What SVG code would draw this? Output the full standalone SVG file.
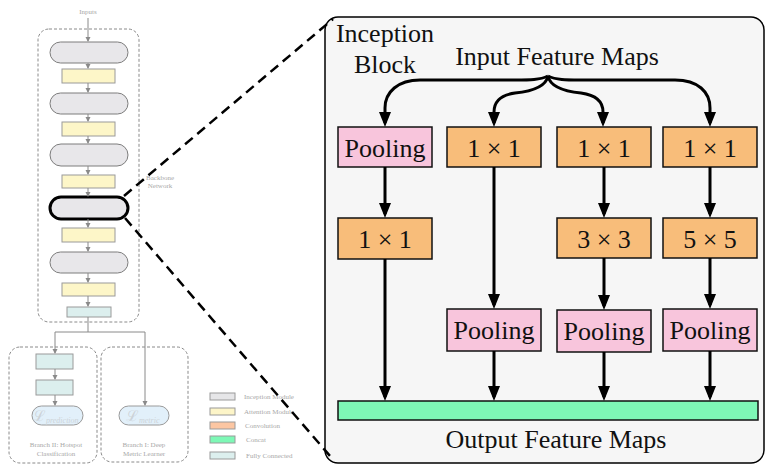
<svg xmlns="http://www.w3.org/2000/svg" width="765" height="465" viewBox="0 0 765 465">
  <style>
    .small { font-family: "Liberation Serif", "Times New Roman", serif; font-size: 7px; fill: #a8a8a8; }
    .big { font-family: "Liberation Serif", "Times New Roman", serif; font-size: 26px; fill: #111; }
    .mid { text-anchor: middle; }
    .dashbox { fill: none; stroke: #8a8a8a; stroke-width: 1; stroke-dasharray: 3 2; }
    .pill { fill: #e8e7ea; stroke: #7d7d7d; stroke-width: 1; }
    .att { fill: #fdf6c8; stroke: #9a9a9a; stroke-width: 1; }
    .fc { fill: #dcefee; stroke: #9a9a9a; stroke-width: 1; }
    .loss { fill: #e2f0fa; stroke: #9a9a9a; stroke-width: 1; }
    .garrow { fill: none; stroke: #8a8a8a; stroke-width: 1; marker-end: url(#gtip); }
    .gline { fill: none; stroke: #8a8a8a; stroke-width: 1; }
    .pool { fill: #f8c5dc; stroke: #111; stroke-width: 1.5; }
    .conv { fill: #f8bd7a; stroke: #111; stroke-width: 1.5; }
    .concat { fill: #7ef7b6; stroke: #111; stroke-width: 1.5; }
    .barrow { fill: none; stroke: #000; stroke-width: 3; marker-end: url(#btip); }
    .zoom { fill: none; stroke: #000; stroke-width: 2.5; stroke-dasharray: 10 6; }
    .lossL { font-family: "DejaVu Serif", "Liberation Serif", serif; font-size: 15px; fill: #cdd3d8; }
    .lossS { font-family: "Liberation Serif", serif; font-style: italic; font-size: 8px; fill: #cdd3d8; }
  </style>
  <defs>
    <marker id="gtip" markerUnits="userSpaceOnUse" markerWidth="6" markerHeight="6" refX="4" refY="2.5" orient="auto">
      <path d="M0,0 L5,2.5 L0,5 z" fill="#8a8a8a"/>
    </marker>
    <marker id="btip" markerUnits="userSpaceOnUse" markerWidth="16" markerHeight="13" refX="11" refY="6" orient="auto">
      <path d="M0,0 L15,6 L0,12 z" fill="#000"/>
    </marker>
  </defs>

  <!-- Backbone network -->
  <g id="backbone">
    <text class="small mid" x="88" y="14">Inputs</text>
    <rect class="dashbox" x="38" y="29" width="101" height="293" rx="11"/>
    <text class="small mid" x="160" y="180">Backbone</text>
    <text class="small mid" x="160" y="188">Network</text>
  </g>
  <g id="inception1"><rect class="pill" x="50" y="42" width="78" height="21" rx="10.5"/></g>
  <g id="attention1"><rect class="att" x="62" y="69" width="53" height="14"/></g>
  <g id="inception2"><rect class="pill" x="50" y="93" width="78" height="21" rx="10.5"/></g>
  <g id="attention2"><rect class="att" x="62" y="122" width="53" height="14"/></g>
  <g id="inception3"><rect class="pill" x="50" y="144" width="78" height="22" rx="11"/></g>
  <g id="attention3"><rect class="att" x="62" y="175" width="53" height="13"/></g>
  <g id="inception4"><rect class="pill" x="50" y="197" width="78" height="22" rx="11" style="stroke:#000;stroke-width:3"/></g>
  <g id="attention4"><rect class="att" x="62" y="228" width="53" height="14"/></g>
  <g id="inception5"><rect class="pill" x="50" y="252" width="78" height="21" rx="10.5"/></g>
  <g id="attention5"><rect class="att" x="62" y="283" width="53" height="13"/></g>
  <g id="fc0"><rect class="fc" x="67" y="307" width="44" height="10"/></g>

  <!-- Branch II -->
  <g id="branch2">
    <rect class="dashbox" x="9" y="347" width="88" height="116" rx="11"/>
    <text class="small mid" x="56" y="447">Branch II: Hotspot</text>
    <text class="small mid" x="56" y="456">Classification</text>
  </g>
  <g id="fc1"><rect class="fc" x="36" y="354" width="37" height="15"/></g>
  <g id="fc2"><rect class="fc" x="36" y="380" width="37" height="15"/></g>
  <g id="lossPrediction">
    <rect class="loss" x="32" y="406" width="51" height="19" rx="9.5"/>
    <text x="33" y="421"><tspan class="lossL">ℒ</tspan><tspan class="lossS" dy="2">prediction</tspan></text>
  </g>

  <!-- Branch I -->
  <g id="branch1">
    <rect class="dashbox" x="101" y="347" width="87" height="115" rx="11"/>
    <text class="small mid" x="144" y="447">Branch I: Deep</text>
    <text class="small mid" x="144" y="456">Metric Learner</text>
  </g>
  <g id="lossMetric">
    <rect class="loss" x="119" y="406" width="50" height="19" rx="9.5"/>
    <text x="126" y="421"><tspan class="lossL">ℒ</tspan><tspan class="lossS" dy="2">metric</tspan></text>
  </g>

  <!-- Legend -->
  <g id="legend">
    <rect x="210" y="393" width="25" height="7" fill="#e6e6e8" stroke="#9a9a9a"/>
    <text class="small" x="244" y="399">Inception Module</text>
    <rect x="210" y="408" width="25" height="7" fill="#fdf5c8" stroke="#9a9a9a"/>
    <text class="small" x="244" y="414">Attention Module</text>
    <rect x="210" y="422" width="25" height="7" fill="#fcc6a2" stroke="#9a9a9a"/>
    <text class="small" x="245" y="428">Convolution</text>
    <rect x="210" y="436" width="25" height="7" fill="#7ef8b6" stroke="#9a9a9a"/>
    <text class="small" x="246" y="442">Concat</text>
    <rect x="210" y="452" width="25" height="7" fill="#dcefee" stroke="#9a9a9a"/>
    <text class="small" x="246" y="458">Fully Connected</text>
  </g>

  <!-- Inception block detail -->
  <g id="inceptionBlock">
    <rect x="325" y="17" width="439" height="446" rx="13" fill="#f6f6f6" stroke="#000" stroke-width="1.5"/>
    <text class="big mid" x="385" y="42">Inception</text>
    <text class="big mid" x="385" y="73">Block</text>
    <text class="big mid" x="557" y="65">Input Feature Maps</text>
    <text class="big mid" x="556" y="448">Output Feature Maps</text>
  </g>
  <g id="pool0"><rect class="pool" x="338" y="127" width="94" height="40"/><text class="big mid" x="385" y="157">Pooling</text></g>
  <g id="conv1a"><rect class="conv" x="447" y="127" width="94" height="40"/><text class="big mid" x="494" y="157">1 × 1</text></g>
  <g id="conv1b"><rect class="conv" x="557" y="127" width="94" height="40"/><text class="big mid" x="604" y="157">1 × 1</text></g>
  <g id="conv1c"><rect class="conv" x="663" y="127" width="94" height="40"/><text class="big mid" x="710" y="157">1 × 1</text></g>
  <g id="conv1d"><rect class="conv" x="338" y="218" width="94" height="41"/><text class="big mid" x="385" y="248">1 × 1</text></g>
  <g id="conv3"><rect class="conv" x="557" y="218" width="94" height="40"/><text class="big mid" x="604" y="248">3 × 3</text></g>
  <g id="conv5"><rect class="conv" x="663" y="218" width="94" height="40"/><text class="big mid" x="710" y="248">5 × 5</text></g>
  <g id="pool1"><rect class="pool" x="447" y="309" width="94" height="42"/><text class="big mid" x="494" y="339">Pooling</text></g>
  <g id="pool2"><rect class="pool" x="557" y="310" width="94" height="42"/><text class="big mid" x="604" y="340">Pooling</text></g>
  <g id="pool3"><rect class="pool" x="663" y="309" width="94" height="42"/><text class="big mid" x="710" y="339">Pooling</text></g>
  <g id="concat"><rect class="concat" x="338" y="401" width="420" height="19"/></g>

  <!-- Connectors -->
  <g id="connectors">
    <!-- backbone chain -->
    <path class="garrow" d="M88,18 V41"/>
    <path class="garrow" d="M88,63 V68"/>
    <path class="garrow" d="M88,83 V92"/>
    <path class="garrow" d="M88,114 V121"/>
    <path class="garrow" d="M88,136 V143"/>
    <path class="garrow" d="M88,166 V174"/>
    <path class="garrow" d="M88,188 V196"/>
    <path class="garrow" d="M88,219 V227"/>
    <path class="garrow" d="M88,242 V251"/>
    <path class="garrow" d="M88,273 V282"/>
    <path class="garrow" d="M88,296 V306"/>
    <path class="gline" d="M88,317 V332 M55,332 H145"/>
    <path class="garrow" d="M55,332 V353"/>
    <path class="garrow" d="M145,332 V405"/>
    <path class="garrow" d="M55,369 V379"/>
    <path class="garrow" d="M55,395 V405"/>

    <!-- zoom lines -->
    <path class="zoom" d="M124,196 L333,19"/>
    <path class="zoom" d="M125,218 L330,456"/>

    <!-- input brace -->
    <path class="barrow" d="M548,76 C540,80 530,80 515,80 L420,80 C398,80 385,92 385,108 L385,123"/>
    <path class="barrow" d="M548,76 C546,86 535,91 515,93 C500,95 494,102 494,112 L494,123"/>
    <path class="barrow" d="M548,76 C550,86 561,91 581,93 C596,95 603,102 603,112 L603,123"/>
    <path class="barrow" d="M548,76 C556,80 566,80 580,80 L675,80 C698,80 710,92 710,108 L710,123"/>

    <!-- branch flows -->
    <path class="barrow" d="M385,167 V214"/>
    <path class="barrow" d="M385,259 V397"/>
    <path class="barrow" d="M494,167 V305"/>
    <path class="barrow" d="M494,351 V397"/>
    <path class="barrow" d="M604,167 V214"/>
    <path class="barrow" d="M604,258 V306"/>
    <path class="barrow" d="M604,352 V397"/>
    <path class="barrow" d="M710,167 V214"/>
    <path class="barrow" d="M710,258 V305"/>
    <path class="barrow" d="M710,351 V397"/>
  </g>
</svg>
